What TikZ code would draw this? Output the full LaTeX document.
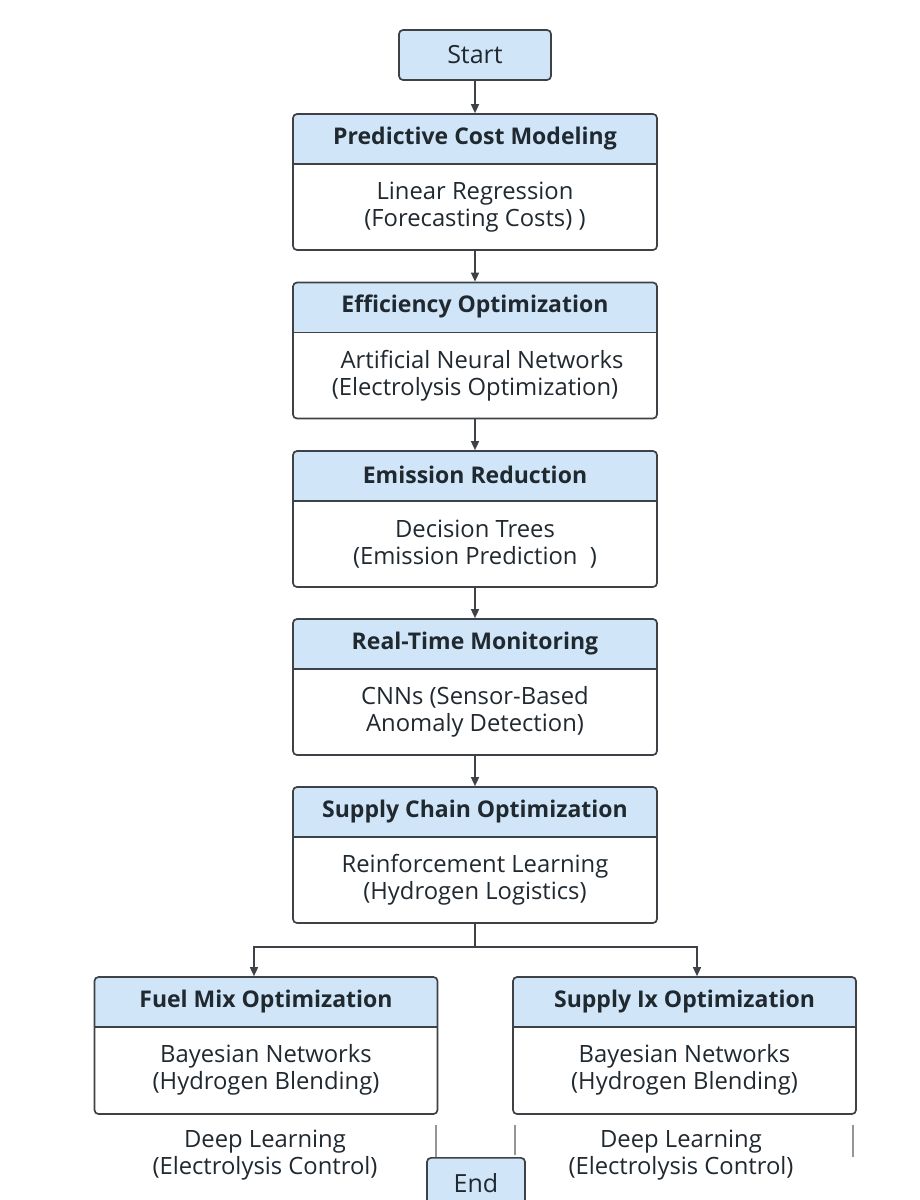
\documentclass[tikz,border=0pt]{standalone}
\usepackage{fontspec}
\setmainfont{Open Sans}
\usetikzlibrary{arrows.meta}
\definecolor{hdr}{RGB}{208,230,248}
\definecolor{edge}{RGB}{62,66,70}
\definecolor{ink}{RGB}{32,40,48}
\definecolor{stub}{RGB}{150,150,150}
\begin{document}
\begin{tikzpicture}[x=1pt,y=-1pt,
  card/.style={draw=edge, line width=1.7pt, rounded corners=4pt, inner sep=0pt,
    minimum width=364pt, minimum height=136pt,
    path picture={
      \fill[hdr, sharp corners] (path picture bounding box.north west) rectangle ([yshift=-50pt]path picture bounding box.north east);
      \draw[edge, line width=1.7pt, sharp corners] ([yshift=-50pt]path picture bounding box.north west) -- ([yshift=-50pt]path picture bounding box.north east);}},
  smallcard/.style={card, minimum width=343pt, minimum height=137pt},
  term/.style={draw=edge, fill=hdr, line width=1.7pt, rounded corners=4pt, inner sep=0pt,
    minimum width=152pt, minimum height=50pt, text=ink, font=\fontsize{25}{28}\selectfont},
  htxt/.style={text=ink, font=\fontsize{23}{27}\selectfont\bfseries, inner sep=0pt},
  btxt/.style={text=ink, font=\fontsize{23.8}{27}\selectfont, align=center, inner sep=0pt},
  arr/.style={draw=edge, line width=1.5pt, -{Triangle[length=9pt,width=8pt]}},
  stubline/.style={draw=stub, line width=1.2pt}
]
\useasboundingbox (0,0) rectangle (920,1200);
\clip (0,0) rectangle (920,1200);
\fill[white] (0,0) rectangle (920,1200);

% Start
\node[term] (start) at (475,55) {Start};

% Main cards
\node[card] (b1) at (475,182) {};
\node[htxt] (h1) at ([yshift=-25pt]b1.north) {Predictive Cost Modeling};
\node[btxt] (t1) at ([yshift=-94pt]b1.north) {Linear Regression\\(Forecasting Costs) )};

\node[card] (b2) at (475,350.5) {};
\node[htxt] (h2) at ([yshift=-25pt]b2.north) {Efficiency Optimization};
\node[btxt] (t2) at ([yshift=-94pt]b2.north) {\hspace*{14pt}Artificial Neural Networks\\(Electrolysis Optimization)};

\node[card] (b3) at (475,519) {};
\node[htxt] (h3) at ([yshift=-25pt]b3.north) {Emission Reduction};
\node[btxt] (t3) at ([yshift=-94pt]b3.north) {Decision Trees\\(Emission Prediction\ \ )};

\node[card] (b4) at (475,687) {};
\node[htxt] (h4) at ([yshift=-25pt]b4.north) {Real-Time Monitoring};
\node[btxt] (t4) at ([yshift=-94pt]b4.north) {CNNs (Sensor-Based\\Anomaly Detection)};

\node[card] (b5) at (475,855) {};
\node[htxt] (h5) at ([yshift=-25pt]b5.north) {Supply Chain Optimization};
\node[btxt] (t5) at ([yshift=-94pt]b5.north) {Reinforcement Learning\\(Hydrogen Logistics)};

% Bottom cards
\node[smallcard] (b6) at (266,1045.5) {};
\node[htxt] (h6) at ([yshift=-25pt]b6.north) {Fuel Mix Optimization};
\node[btxt] (t6) at ([yshift=-94pt]b6.north) {Bayesian Networks\\(Hydrogen Blending)};

\node[smallcard] (b7) at (684.5,1045.5) {};
\node[htxt] (h7) at ([yshift=-25pt]b7.north) {Supply Ix Optimization};
\node[btxt] (t7) at ([yshift=-94pt]b7.north) {Bayesian Networks\\(Hydrogen Blending)};

% Loose texts
\node[btxt] (d1) at (265,1155) {Deep Learning\\(Electrolysis Control)};
\node[btxt] (d2) at (681,1155) {Deep Learning\\(Electrolysis Control)};

% End
\node[term, minimum width=98pt, minimum height=50pt, anchor=north] (end) at (476,1157) {End};

% Connectors
\draw[arr] (start) -- (b1);
\draw[arr] (b1) -- (b2);
\draw[arr] (b2) -- (b3);
\draw[arr] (b3) -- (b4);
\draw[arr] (b4) -- (b5);
\coordinate (split) at ([yshift=-23pt]b5.south);
\draw[draw=edge, line width=1.5pt] (b5.south) -- (split);
\draw[arr] (split) -| ([xshift=-12pt]b6.north);
\draw[arr] (split) -| ([xshift=12.5pt]b7.north);

% Stub lines
\coordinate (s1a) at (436,1125); \coordinate (s1b) at (436,1157);
\coordinate (s2a) at (515,1125); \coordinate (s2b) at (515,1155);
\coordinate (s3a) at (853,1125); \coordinate (s3b) at (853,1157);
\draw[stubline] (s1a) -- (s1b);
\draw[stubline] (s2a) -- (s2b);
\draw[stubline] (s3a) -- (s3b);
\end{tikzpicture}
\end{document}
